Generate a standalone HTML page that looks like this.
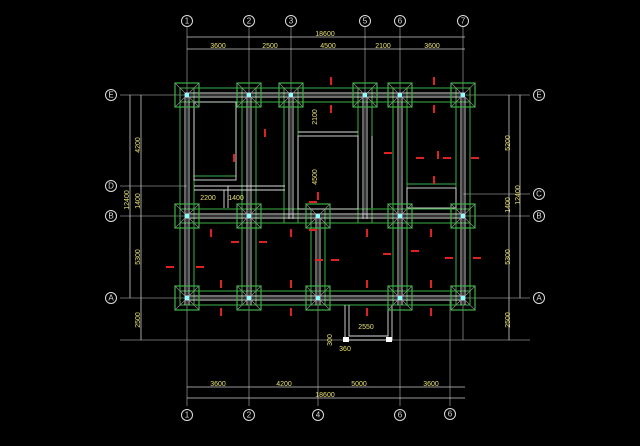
<!DOCTYPE html>
<html><head><meta charset="utf-8"><style>
html,body{margin:0;padding:0;background:#000;}
svg{display:block}
text{font-family:"Liberation Sans",sans-serif;}
.y{fill:#e8e070;font-size:7px;}
.b{fill:none;stroke:#ddd;stroke-width:1}
.bt{fill:#ddd;font-size:8px;text-anchor:middle;dominant-baseline:central}
</style></head><body>
<svg width="640" height="446" viewBox="0 0 640 446" xmlns="http://www.w3.org/2000/svg">
<defs>
<g id="f">
<rect x="-12" y="-12" width="24" height="24" fill="none" stroke="#3cb043" stroke-width="1.2"/>
<path d="M-12,-12L12,12M12,-12L-12,12" stroke="#8a8a8a" stroke-width="0.7"/>
<rect x="-2" y="-2" width="4" height="4" fill="#8ff"/>
</g>
<g id="r"><rect x="-1" y="-4" width="2" height="8" fill="#d22"/></g>
<g id="rh"><rect x="-4" y="-1" width="8" height="2" fill="#d22"/></g>
</defs>
<!-- axis lines (gray) -->
<g stroke="#888" stroke-width="0.8">
<line x1="187" y1="26" x2="187" y2="406"/>
<line x1="249" y1="26" x2="249" y2="406"/>
<line x1="291" y1="26" x2="291" y2="215"/>
<line x1="365" y1="26" x2="365" y2="215"/>
<line x1="400" y1="26" x2="400" y2="406"/>
<line x1="463" y1="26" x2="463" y2="340"/>
<line x1="318" y1="215" x2="318" y2="406"/>
<line x1="450" y1="300" x2="450" y2="406"/>
<line x1="120" y1="95" x2="530" y2="95"/>
<line x1="120" y1="186" x2="187" y2="186"/>
<line x1="463" y1="194" x2="530" y2="194"/>
<line x1="120" y1="216" x2="530" y2="216"/>
<line x1="120" y1="298" x2="530" y2="298"/>
<line x1="120" y1="340" x2="530" y2="340"/>
</g>
<!-- dimension lines -->
<g stroke="#ccc" stroke-width="0.8">
<line x1="187" y1="37" x2="465" y2="37"/>
<line x1="187" y1="49" x2="465" y2="49"/>
<line x1="187" y1="387" x2="465" y2="387"/>
<line x1="187" y1="398" x2="465" y2="398"/>
<line x1="130" y1="95" x2="130" y2="298"/>
<line x1="141" y1="95" x2="141" y2="340"/>
<line x1="509" y1="95" x2="509" y2="340"/>
<line x1="520" y1="95" x2="520" y2="298"/>
</g>
<!-- beams green -->
<g stroke="#3cb043" stroke-width="1" fill="none">
<rect x="180" y="88" width="290" height="14"/>
<rect x="180" y="209" width="290" height="14"/>
<rect x="180" y="291" width="290" height="14"/>
<rect x="180" y="88" width="14" height="217"/>
<rect x="242" y="88" width="14" height="217"/>
<rect x="284" y="88" width="14" height="135"/>
<rect x="358" y="88" width="14" height="135"/>
<rect x="393" y="88" width="14" height="217"/>
<rect x="456" y="88" width="14" height="217"/>
<rect x="311" y="209" width="14" height="96"/>
<rect x="194" y="102" width="42" height="74"/>
<rect x="298" y="102" width="60" height="30"/>
<rect x="407" y="102" width="49" height="82"/>
</g>
<!-- beams gray inner -->
<g stroke="#ddd" stroke-width="0.9" fill="none">
<path d="M185,93H465M185,97H465M185,214H465M185,218H465M185,296H465M185,300H465"/>
<path d="M185,93V305M189,97V305M247,93V305M251,97V305M289,93V219M293,97V219M363,93V219M367,97V219M398,93V305M402,97V305M461,93V305M465,97V305M316,214V305M320,218V305"/>
<rect x="194" y="102" width="42" height="78"/>
<path d="M194,186H285M194,190H285M228,186V208M224,190V208"/>
<rect x="298" y="136" width="60" height="73"/>
<rect x="407" y="188" width="49" height="20"/>
<path d="M372,136V208M298,132H358"/>
<path d="M345,305V340H392V305M349,305V336H388V305"/>
</g>
<rect x="343" y="337" width="6" height="5" fill="#fff"/>
<rect x="386" y="337" width="6" height="5" fill="#fff"/>
<!-- footings -->
<use href="#f" x="187" y="95"/><use href="#f" x="249" y="95"/><use href="#f" x="291" y="95"/><use href="#f" x="365" y="95"/><use href="#f" x="400" y="95"/><use href="#f" x="463" y="95"/>
<use href="#f" x="187" y="216"/><use href="#f" x="249" y="216"/><use href="#f" x="318" y="216"/><use href="#f" x="400" y="216"/><use href="#f" x="463" y="216"/>
<use href="#f" x="187" y="298"/><use href="#f" x="249" y="298"/><use href="#f" x="318" y="298"/><use href="#f" x="400" y="298"/><use href="#f" x="463" y="298"/>
<!-- red marks -->
<use href="#r" x="331" y="81"/><use href="#r" x="434" y="81"/><use href="#r" x="331" y="109"/><use href="#r" x="434" y="109"/>
<use href="#r" x="234" y="158"/><use href="#r" x="265" y="133"/><use href="#r" x="434" y="180"/><use href="#r" x="438" y="155"/>
<use href="#r" x="318" y="196"/><use href="#r" x="211" y="233"/><use href="#r" x="291" y="233"/><use href="#r" x="367" y="233"/><use href="#r" x="431" y="233"/>
<use href="#r" x="221" y="284"/><use href="#r" x="291" y="284"/><use href="#r" x="367" y="284"/><use href="#r" x="431" y="284"/>
<use href="#r" x="221" y="312"/><use href="#r" x="291" y="312"/><use href="#r" x="367" y="312"/><use href="#r" x="431" y="312"/>
<use href="#rh" x="235" y="242"/><use href="#rh" x="263" y="242"/><use href="#rh" x="170" y="267"/><use href="#rh" x="200" y="267"/>
<use href="#rh" x="319" y="260"/><use href="#rh" x="335" y="260"/><use href="#rh" x="387" y="254"/><use href="#rh" x="415" y="251"/>
<use href="#rh" x="449" y="258"/><use href="#rh" x="477" y="258"/><use href="#rh" x="388" y="153"/><use href="#rh" x="420" y="158"/><use href="#rh" x="447" y="158"/><use href="#rh" x="475" y="158"/>
<use href="#rh" x="313" y="202"/><use href="#rh" x="313" y="230"/>
<!-- bubbles -->
<g class="b">
<circle cx="187" cy="21" r="5.5"/><circle cx="249" cy="21" r="5.5"/><circle cx="291" cy="21" r="5.5"/><circle cx="365" cy="21" r="5.5"/><circle cx="400" cy="21" r="5.5"/><circle cx="463" cy="21" r="5.5"/>
<circle cx="187" cy="415" r="5.5"/><circle cx="249" cy="415" r="5.5"/><circle cx="318" cy="415" r="5.5"/><circle cx="400" cy="415" r="5.5"/><circle cx="450" cy="414" r="5.5"/>
<circle cx="111" cy="95" r="5.5"/><circle cx="111" cy="186" r="5.5"/><circle cx="111" cy="216" r="5.5"/><circle cx="111" cy="298" r="5.5"/>
<circle cx="539" cy="95" r="5.5"/><circle cx="539" cy="194" r="5.5"/><circle cx="539" cy="216" r="5.5"/><circle cx="539" cy="298" r="5.5"/>
</g>
<g class="bt">
<text x="187" y="21">1</text><text x="249" y="21">2</text><text x="291" y="21">3</text><text x="365" y="21">5</text><text x="400" y="21">6</text><text x="463" y="21">7</text>
<text x="187" y="415">1</text><text x="249" y="415">2</text><text x="318" y="415">4</text><text x="400" y="415">6</text><text x="450" y="414">6</text>
<text x="111" y="95">E</text><text x="111" y="186">D</text><text x="111" y="216">B</text><text x="111" y="298">A</text>
<text x="539" y="95">E</text><text x="539" y="194">C</text><text x="539" y="216">B</text><text x="539" y="298">A</text>
</g>
<!-- dim texts -->
<g class="y" text-anchor="middle">
<text x="325" y="36">18600</text>
<text x="218" y="48">3600</text><text x="270" y="48">2500</text><text x="328" y="48">4500</text><text x="383" y="48">2100</text><text x="432" y="48">3600</text>
<text x="218" y="386">3600</text><text x="284" y="386">4200</text><text x="359" y="386">5000</text><text x="431" y="386">3600</text>
<text x="325" y="397">18600</text>
<text x="208" y="200">2200</text><text x="236" y="200">1400</text>
<text x="366" y="329">2550</text><text x="345" y="351">360</text>
</g>
<g class="y" text-anchor="middle">
<text transform="translate(140,145) rotate(-90)">4200</text>
<text transform="translate(140,201) rotate(-90)">1400</text>
<text transform="translate(129,200) rotate(-90)">12400</text>
<text transform="translate(140,257) rotate(-90)">5300</text>
<text transform="translate(140,320) rotate(-90)">2500</text>
<text transform="translate(510,143) rotate(-90)">5200</text>
<text transform="translate(510,205) rotate(-90)">1400</text>
<text transform="translate(520,195) rotate(-90)">12400</text>
<text transform="translate(510,257) rotate(-90)">5300</text>
<text transform="translate(510,320) rotate(-90)">2500</text>
<text transform="translate(317,117) rotate(-90)">2100</text>
<text transform="translate(317,177) rotate(-90)">4500</text>
<text transform="translate(332,340) rotate(-90)">300</text>
</g>
</svg>
</body></html>
